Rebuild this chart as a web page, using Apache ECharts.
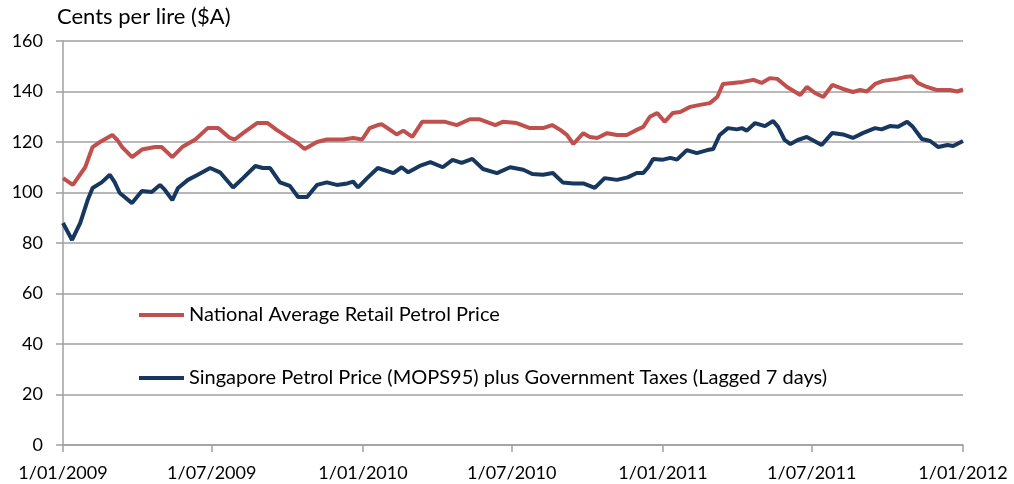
<!DOCTYPE html>
<html>
<head>
<meta charset="utf-8">
<script src="https://cdn.jsdelivr.net/npm/echarts@6/dist/echarts.min.js"></script>
<style>
  html, body { margin: 0; padding: 0; background: #fff; }
  #chart { width: 1014px; height: 484px; }
</style>
</head>
<body>
<div id="chart"></div>
<script>
// National average retail petrol price (cents per litre)
const retailDates = [
  '2009-01-01','2009-01-13','2009-01-28','2009-02-06','2009-02-15','2009-03-02','2009-03-08','2009-03-14',
  '2009-03-26','2009-04-07','2009-04-23','2009-05-01','2009-05-14','2009-05-26','2009-06-11','2009-06-26',
  '2009-07-09','2009-07-23','2009-07-29','2009-08-08','2009-08-25','2009-09-07','2009-09-18','2009-10-01',
  '2009-10-13','2009-10-22','2009-11-06','2009-11-18','2009-12-08','2009-12-20','2009-12-31','2010-01-09',
  '2010-01-19','2010-01-24','2010-02-03','2010-02-11','2010-02-19','2010-03-02','2010-03-14','2010-03-26',
  '2010-04-11','2010-04-25','2010-05-11','2010-05-23','2010-06-11','2010-06-20','2010-07-07','2010-07-23',
  '2010-08-08','2010-08-19','2010-08-29','2010-09-06','2010-09-14','2010-09-26','2010-10-04','2010-10-13',
  '2010-10-25','2010-11-06','2010-11-18','2010-11-30','2010-12-08','2010-12-16','2010-12-25','2011-01-03',
  '2011-01-13','2011-01-22','2011-02-03','2011-02-15','2011-02-27','2011-03-08','2011-03-15','2011-03-27',
  '2011-04-08','2011-04-21','2011-05-01','2011-05-11','2011-05-20','2011-06-01','2011-06-17','2011-06-25',
  '2011-07-05','2011-07-15','2011-07-26','2011-08-08','2011-08-20','2011-08-29','2011-09-06','2011-09-16',
  '2011-09-26','2011-10-13','2011-10-22','2011-10-31','2011-11-07','2011-11-18','2011-11-30','2011-12-16',
  '2011-12-25','2012-01-01'
];
const retailValues = [
  105.7,103.0,110.0,118.0,120.0,122.8,120.8,118.0,
  114.0,117.0,118.0,118.0,114.0,118.0,121.0,125.5,
  125.5,121.6,121.0,123.5,127.5,127.5,124.8,122.0,
  119.6,117.2,120.0,121.0,121.0,121.6,121.0,125.5,
  126.7,127.0,124.8,123.0,124.5,122.0,128.0,128.0,
  128.0,126.7,129.0,129.0,126.7,128.0,127.5,125.5,
  125.5,126.7,124.8,122.8,119.2,123.5,122.0,121.6,
  123.5,122.8,122.8,124.8,126.0,130.0,131.5,128.0,
  131.5,131.9,133.9,134.7,135.4,137.8,143.0,143.4,
  143.8,144.6,143.4,145.3,145.0,141.8,138.6,141.8,
  139.4,137.8,142.6,141.0,139.8,140.6,140.0,143.0,
  144.2,145.0,145.7,146.0,143.4,141.8,140.6,140.6,
  140.0,140.8
];

// Singapore petrol price (MOPS95) plus government taxes, lagged 7 days
const mopsDates = [
  '2009-01-01','2009-01-12','2009-01-22','2009-01-31','2009-02-06','2009-02-17','2009-02-27','2009-03-05',
  '2009-03-11','2009-03-26','2009-04-07','2009-04-19','2009-04-29','2009-05-05','2009-05-14','2009-05-21',
  '2009-06-02','2009-06-14','2009-06-29','2009-07-11','2009-07-27','2009-08-08','2009-08-23','2009-09-01',
  '2009-09-10','2009-09-22','2009-10-04','2009-10-14','2009-10-25','2009-11-06','2009-11-18','2009-11-30',
  '2009-12-13','2009-12-20','2009-12-26','2010-01-06','2010-01-19','2010-02-07','2010-02-17','2010-02-25',
  '2010-03-11','2010-03-24','2010-04-08','2010-04-20','2010-05-01','2010-05-14','2010-05-27','2010-06-13',
  '2010-06-29','2010-07-15','2010-07-26','2010-08-08','2010-08-20','2010-09-01','2010-09-14','2010-09-26',
  '2010-10-10','2010-10-22','2010-11-06','2010-11-19','2010-11-30','2010-12-08','2010-12-14','2010-12-20',
  '2011-01-01','2011-01-10','2011-01-18','2011-01-30','2011-02-11','2011-02-24','2011-03-03','2011-03-11',
  '2011-03-21','2011-04-01','2011-04-07','2011-04-13','2011-04-23','2011-05-05','2011-05-15','2011-05-21',
  '2011-05-29','2011-06-05','2011-06-14','2011-06-25','2011-07-13','2011-07-26','2011-08-08','2011-08-20',
  '2011-09-01','2011-09-16','2011-09-24','2011-10-04','2011-10-14','2011-10-25','2011-11-01','2011-11-12',
  '2011-11-22','2011-12-02','2011-12-13','2011-12-20','2012-01-01'
];
const mopsValues = [
  87.9,81.2,88.0,97.0,101.8,104.0,107.0,104.0,
  99.8,95.8,100.6,100.2,103.0,101.0,97.0,101.8,
  105.0,107.0,109.7,108.0,102.0,105.7,110.5,109.7,
  109.7,104.0,102.6,98.2,98.2,103.0,104.0,103.0,
  103.6,104.3,102.0,105.7,109.7,107.7,110.0,108.0,
  110.5,112.0,110.0,112.9,111.7,113.3,109.3,107.7,
  110.0,109.0,107.3,107.0,107.7,104.0,103.6,103.6,
  101.8,105.7,105.0,106.0,107.7,107.7,110.0,113.3,
  113.0,113.7,113.0,116.8,115.6,116.8,117.2,122.8,
  125.5,125.0,125.5,124.5,127.5,126.3,128.3,126.0,
  120.8,119.2,120.8,122.0,118.8,123.6,123.0,121.6,
  123.5,125.5,125.0,126.3,126.0,128.0,126.0,121.2,
  120.4,118.0,118.8,118.4,120.4
];

// Half-yearly date ticks along the x axis
const tickDates = ['2009-01-01','2009-07-01','2010-01-01','2010-07-01','2011-01-01','2011-07-01','2012-01-01'];

const seriesNames = [
  'National Average Retail Petrol Price',
  'Singapore Petrol Price (MOPS95) plus Government Taxes (Lagged 7 days)'
];
const yAxisTitle = 'Cents per lire ($A)';

// Dates are kept as UTC day timestamps on a numeric axis
function toTime(s) {
  const p = s.split('-');
  return Date.UTC(+p[0], +p[1] - 1, +p[2]);
}
function fmtDate(t) {
  const d = new Date(t);
  const m = d.getUTCMonth() + 1;
  return d.getUTCDate() + '/' + (m < 10 ? '0' + m : m) + '/' + d.getUTCFullYear();
}
function pair(dates, values) {
  return dates.map((d, i) => [toTime(d), values[i]]);
}

const FONT = 'Lato, "Open Sans", sans-serif';
const GRID_COLOR = '#a0a0a0';
const RED = '#C0504D';
const NAVY = '#17375E';
const tickTimes = tickDates.map(toTime);

const legendBase = {
  orient: 'vertical', left: 134,
  icon: 'rect', itemWidth: 45, itemHeight: 4,
  textStyle: { fontFamily: FONT, fontSize: 20, color: '#000' }
};

const chart = echarts.init(document.getElementById('chart'), null, { renderer: 'canvas' });
chart.setOption({
  animation: false,
  backgroundColor: '#fff',
  textStyle: { fontFamily: FONT, color: '#000' },
  title: {
    text: yAxisTitle,
    left: 52, top: 1,
    textStyle: { fontFamily: FONT, fontSize: 22, fontWeight: 'normal', color: '#000' }
  },
  grid: { left: 63, right: 51, top: 41, bottom: 39, containLabel: false },
  legend: [
    Object.assign({ data: [seriesNames[0]], top: 300 }, legendBase),
    Object.assign({ data: [seriesNames[1]], top: 363 }, legendBase)
  ],
  xAxis: {
    type: 'value',
    min: tickTimes[0],
    max: tickTimes[tickTimes.length - 1],
    axisLine: { show: true, onZero: false, lineStyle: { color: GRID_COLOR, width: 1.5 } },
    axisTick: { show: true, length: 7, customValues: tickTimes, lineStyle: { color: GRID_COLOR, width: 1.5 } },
    axisLabel: {
      customValues: tickTimes,
      formatter: v => fmtDate(v),
      fontFamily: FONT, fontSize: 18, color: '#000', margin: 19
    },
    splitLine: { show: false }
  },
  yAxis: {
    type: 'value',
    min: 0, max: 160, interval: 20,
    axisLine: { show: true, lineStyle: { color: GRID_COLOR, width: 1.5 } },
    axisTick: { show: true, length: 7, lineStyle: { color: GRID_COLOR, width: 1.5 } },
    axisLabel: { fontFamily: FONT, fontSize: 18, color: '#000', margin: 20 },
    splitLine: { show: true, lineStyle: { color: GRID_COLOR, width: 1.5 } }
  },
  series: [
    {
      name: seriesNames[0], type: 'line', data: pair(retailDates, retailValues),
      showSymbol: false, symbol: 'none', smooth: false,
      lineStyle: { color: RED, width: 4 }, itemStyle: { color: RED }, z: 3
    },
    {
      name: seriesNames[1], type: 'line', data: pair(mopsDates, mopsValues),
      showSymbol: false, symbol: 'none', smooth: false,
      lineStyle: { color: NAVY, width: 4 }, itemStyle: { color: NAVY }, z: 4
    }
  ]
});
</script>
</body>
</html>
